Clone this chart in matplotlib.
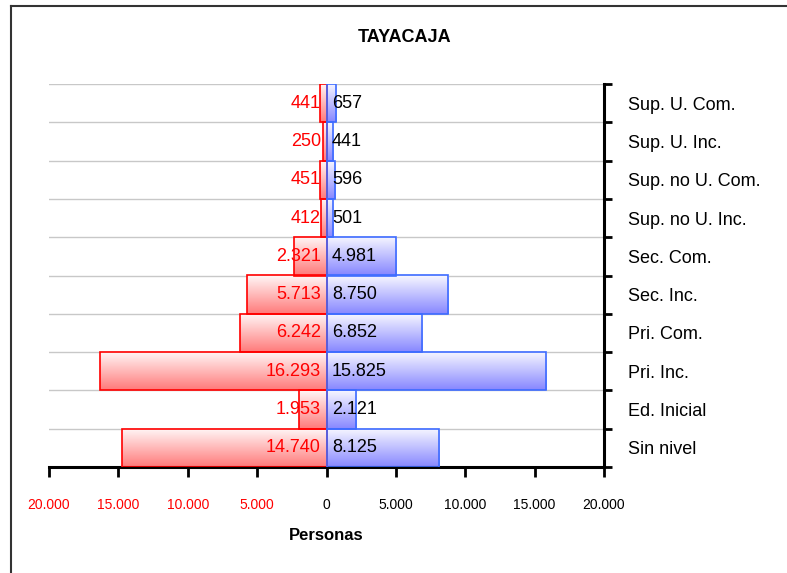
import matplotlib.pyplot as plt
import numpy as np
from matplotlib.lines import Line2D

plt.rcParams['font.family'] = ['Liberation Sans Narrow', 'Liberation Sans', 'DejaVu Sans']

categories = ["Sin nivel", "Ed. Inicial", "Pri. Inc.", "Pri. Com.", "Sec. Inc.",
              "Sec. Com.", "Sup. no U. Inc.", "Sup. no U. Com.", "Sup. U. Inc.", "Sup. U. Com."]
mujeres = [14740, 1953, 16293, 6242, 5713, 2321, 412, 451, 250, 441]
hombres = [8125, 2121, 15825, 6852, 8750, 4981, 501, 596, 441, 657]
xticks = [-20000, -15000, -10000, -5000, 0, 5000, 10000, 15000, 20000]


def fmt(v):
    return f"{abs(v):,}".replace(",", ".")


def gradient_fill(ax, bars, top_rgb, bot_rgb):
    grad = np.linspace(0, 1, 64)
    img = np.zeros((64, 1, 3))
    for i in range(3):
        img[:, 0, i] = top_rgb[i] + (bot_rgb[i] - top_rgb[i]) * grad
    for b in bars:
        x0, y0 = b.get_x(), b.get_y()
        w, h = b.get_width(), b.get_height()
        im = ax.imshow(img, extent=[x0, x0 + w, y0, y0 + h], origin='upper',
                       aspect='auto', zorder=2)
        im.set_clip_path(b)
        b.set_facecolor('none')
        b.set_zorder(3)


fig = plt.figure(figsize=(7.87, 5.73), dpi=100)
ax = fig.add_axes([49 / 787, 1 - 467 / 573, (604 - 49) / 787, (467 - 84) / 573])

y = np.arange(len(categories))
neg = [-v for v in mujeres]
rb = ax.barh(y, neg, height=1.0, color='#ff8080', edgecolor='#ff0000', linewidth=1.2)
bb = ax.barh(y, hombres, height=1.0, color='#9090ff', edgecolor='#3d6bff', linewidth=1.2)
gradient_fill(ax, rb, (1.0, 0.97, 0.97), (1.0, 0.48, 0.48))
gradient_fill(ax, bb, (0.97, 0.97, 1.0), (0.53, 0.53, 1.0))

for yi, v in zip(y, mujeres):
    ax.annotate(fmt(v), (0, yi), xytext=(-4, 0), textcoords='offset points',
                ha='right', va='center', color='red', fontsize=13, zorder=5)
for yi, v in zip(y, hombres):
    ax.annotate(fmt(v), (0, yi), xytext=(4, 0), textcoords='offset points',
                ha='left', va='center', color='black', fontsize=13, zorder=5)

ax.set_xlim(-20000, 20000)
ax.set_ylim(-0.5, len(categories) - 0.5)

ax.set_xticks(xticks)
ax.set_xticklabels([fmt(t) for t in xticks], fontsize=10)
for lbl, t in zip(ax.get_xticklabels(), xticks):
    if t < 0:
        lbl.set_color('red')
ax.tick_params(axis='x', direction='out', length=7, width=2, pad=15)

ax.yaxis.tick_right()
ax.set_yticks(y)
ax.set_yticklabels(categories, fontsize=13)
ax.set_yticks(np.arange(-0.5, len(categories)), minor=True)
ax.tick_params(axis='y', which='major', length=0, pad=17)
ax.tick_params(axis='y', which='minor', direction='out', length=6, width=2)
ax.grid(axis='y', which='minor', color='#c8c8c8', linewidth=1)
ax.set_axisbelow(True)

for s in ['left', 'top']:
    ax.spines[s].set_visible(False)
for s in ['bottom', 'right']:
    ax.spines[s].set_linewidth(2.2)

ax.set_xlabel("Personas", fontsize=12, fontweight='bold', labelpad=12)
fig.text(405 / 787, 1 - 38 / 573, "TAYACAJA", ha='center', va='center',
         fontsize=13, fontweight='bold')

fig.add_artist(Line2D([11 / 787, 11 / 787], [0, 1 - 6 / 573], color='#333333', lw=1.5))
fig.add_artist(Line2D([11 / 787, 1], [1 - 6 / 573, 1 - 6 / 573], color='#333333', lw=1.5))

fig.savefig("out.png", dpi=100)
